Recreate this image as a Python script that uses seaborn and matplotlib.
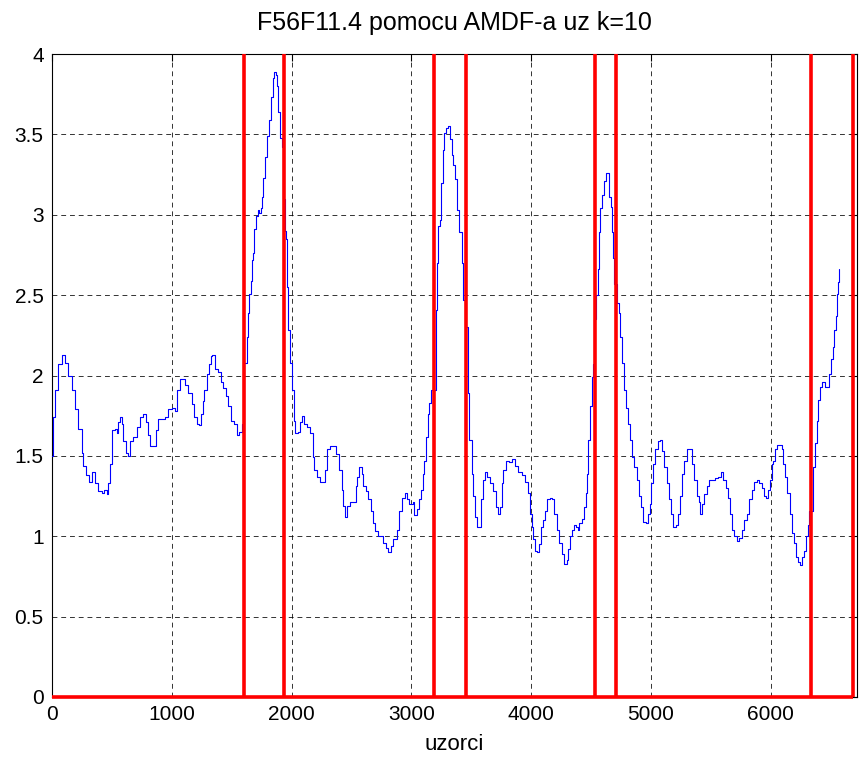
import matplotlib
matplotlib.use("Agg")
import matplotlib.pyplot as plt
import seaborn as sns
import pandas as pd

# ---- data ----
title_text = "F56F11.4 pomocu AMDF-a uz k=10"
x_label = "uzorci"
x_ticks = [0, 1000, 2000, 3000, 4000, 5000, 6000]
y_ticks = [0, 0.5, 1, 1.5, 2, 2.5, 3, 3.5, 4]
y_tick_labels = ["0", "0.5", "1", "1.5", "2", "2.5", "3", "3.5", "4"]

# detected segment boundaries (red lines)
boundaries = [1600, 1935, 3190, 3452, 4536, 4712, 6332, 6690]
boundary_height = 4.0

# AMDF curve (sample index, value)
samples = [
    0, 5, 25, 53, 81, 108, 136, 164, 192, 220,
    248, 262, 284, 312, 337, 359, 387, 415, 437, 456,
    470, 484, 503, 525, 540, 554, 568, 582, 595, 618,
    637, 651, 679, 707, 735, 757, 785, 804, 818, 852,
    868, 887, 915, 943, 971, 999, 1027, 1046, 1068, 1082,
    1110, 1138, 1166, 1188, 1208, 1227, 1241, 1258, 1269, 1291,
    1308, 1327, 1339, 1361, 1388, 1411, 1430, 1450, 1472, 1494,
    1522, 1541, 1564, 1590, 1605, 1625, 1633, 1647, 1658, 1667,
    1681, 1689, 1700, 1717, 1728, 1742, 1750, 1764, 1778, 1792,
    1811, 1828, 1845, 1856, 1867, 1875, 1889, 1903, 1917, 1925,
    1945, 1953, 1964, 1973, 1990, 2006, 2020, 2028, 2051, 2070,
    2089, 2106, 2126, 2154, 2176, 2187, 2209, 2237, 2260, 2279,
    2298, 2321, 2348, 2371, 2398, 2418, 2432, 2446, 2465, 2488,
    2515, 2538, 2549, 2565, 2585, 2599, 2621, 2641, 2660, 2677,
    2696, 2724, 2746, 2766, 2788, 2807, 2827, 2849, 2877, 2899,
    2919, 2947, 2966, 2983, 3011, 3024, 3038, 3049, 3066, 3080,
    3094, 3108, 3122, 3136, 3150, 3164, 3180, 3205, 3216, 3225,
    3236, 3247, 3261, 3275, 3289, 3308, 3322, 3336, 3350, 3364,
    3378, 3400, 3420, 3434, 3450, 3475, 3484, 3503, 3517, 3531,
    3550, 3569, 3581, 3595, 3614, 3634, 3656, 3684, 3703, 3720,
    3739, 3753, 3767, 3790, 3817, 3837, 3865, 3892, 3921, 3948,
    3971, 3990, 4004, 4018, 4032, 4051, 4065, 4082, 4101, 4115,
    4132, 4157, 4176, 4193, 4213, 4232, 4254, 4276, 4296, 4310,
    4324, 4338, 4357, 4371, 4388, 4402, 4421, 4441, 4455, 4463,
    4477, 4491, 4505, 4513, 4522, 4540, 4555, 4566, 4577, 4594,
    4605, 4622, 4636, 4649, 4663, 4677, 4685, 4694, 4715, 4736,
    4744, 4761, 4772, 4789, 4805, 4825, 4844, 4861, 4881, 4900,
    4917, 4936, 4956, 4973, 4989, 5000, 5014, 5033, 5056, 5075,
    5089, 5111, 5131, 5150, 5167, 5186, 5206, 5223, 5242, 5256,
    5278, 5298, 5326, 5340, 5359, 5381, 5401, 5412, 5429, 5445,
    5465, 5484, 5507, 5534, 5562, 5584, 5604, 5623, 5640, 5659,
    5679, 5695, 5715, 5734, 5757, 5779, 5798, 5818, 5840, 5860,
    5882, 5902, 5924, 5943, 5960, 5974, 5993, 6007, 6021, 6035,
    6054, 6077, 6091, 6104, 6118, 6138, 6160, 6180, 6196, 6208,
    6224, 6244, 6258, 6277, 6291, 6308, 6320, 6355, 6369, 6383,
    6397, 6411, 6430, 6452, 6475, 6489, 6503, 6517, 6530, 6542,
    6553, 6564, 6572,
]
amdf = [
    1.50, 1.74, 1.91, 2.07, 2.13, 2.08, 2.00, 1.91, 1.79, 1.67,
    1.52, 1.44, 1.38, 1.34, 1.40, 1.33, 1.28, 1.27, 1.29, 1.26,
    1.33, 1.45, 1.66, 1.67, 1.64, 1.71, 1.74, 1.70, 1.59, 1.52,
    1.50, 1.59, 1.62, 1.68, 1.74, 1.76, 1.71, 1.63, 1.56, 1.56,
    1.66, 1.73, 1.73, 1.74, 1.79, 1.80, 1.78, 1.91, 1.98, 1.98,
    1.94, 1.89, 1.82, 1.74, 1.70, 1.69, 1.76, 1.84, 1.91, 2.01,
    2.07, 2.12, 2.13, 2.04, 2.02, 1.96, 1.92, 1.87, 1.81, 1.72,
    1.70, 1.63, 1.65, 1.70, 2.08, 2.24, 2.39, 2.51, 2.59, 2.72,
    2.76, 2.91, 2.99, 3.03, 3.01, 3.04, 3.11, 3.23, 3.36, 3.49,
    3.59, 3.73, 3.85, 3.89, 3.87, 3.80, 3.64, 3.48, 3.42, 3.10,
    2.90, 2.85, 2.55, 2.28, 2.08, 1.91, 1.72, 1.64, 1.65, 1.71,
    1.75, 1.70, 1.68, 1.64, 1.49, 1.41, 1.37, 1.34, 1.34, 1.41,
    1.54, 1.56, 1.56, 1.51, 1.41, 1.29, 1.19, 1.12, 1.19, 1.21,
    1.21, 1.31, 1.37, 1.43, 1.39, 1.31, 1.28, 1.23, 1.16, 1.08,
    1.03, 1.00, 1.00, 0.96, 0.93, 0.90, 0.94, 0.98, 1.04, 1.16,
    1.24, 1.27, 1.23, 1.20, 1.21, 1.13, 1.13, 1.17, 1.23, 1.29,
    1.39, 1.47, 1.62, 1.76, 1.83, 1.91, 1.91, 2.41, 2.70, 2.93,
    2.97, 3.20, 3.40, 3.51, 3.54, 3.55, 3.47, 3.37, 3.31, 3.22,
    3.03, 2.89, 2.70, 2.47, 2.30, 1.89, 1.60, 1.39, 1.25, 1.12,
    1.06, 1.06, 1.23, 1.35, 1.40, 1.37, 1.33, 1.28, 1.18, 1.14,
    1.18, 1.33, 1.41, 1.47, 1.46, 1.48, 1.44, 1.40, 1.38, 1.34,
    1.27, 1.14, 1.06, 0.98, 0.91, 0.90, 0.95, 1.06, 1.10, 1.16,
    1.23, 1.24, 1.23, 1.14, 1.04, 0.96, 0.89, 0.83, 0.85, 0.92,
    1.00, 1.04, 1.07, 1.06, 1.04, 1.08, 1.11, 1.18, 1.27, 1.39,
    1.60, 1.81, 1.99, 2.07, 2.35, 2.50, 2.66, 2.89, 3.04, 3.12,
    3.21, 3.26, 3.26, 3.11, 3.05, 2.89, 2.73, 2.57, 2.45, 2.39,
    2.24, 2.08, 1.91, 1.80, 1.70, 1.60, 1.49, 1.43, 1.35, 1.25,
    1.18, 1.09, 1.08, 1.14, 1.20, 1.33, 1.45, 1.54, 1.59, 1.60,
    1.53, 1.43, 1.33, 1.23, 1.14, 1.06, 1.07, 1.14, 1.25, 1.39,
    1.47, 1.54, 1.54, 1.45, 1.35, 1.25, 1.21, 1.14, 1.20, 1.26,
    1.31, 1.35, 1.35, 1.36, 1.37, 1.40, 1.35, 1.30, 1.24, 1.14,
    1.04, 1.00, 0.97, 0.99, 1.04, 1.10, 1.14, 1.23, 1.29, 1.34,
    1.35, 1.33, 1.30, 1.25, 1.24, 1.29, 1.35, 1.45, 1.47, 1.54,
    1.57, 1.57, 1.54, 1.45, 1.37, 1.27, 1.14, 1.02, 0.96, 0.87,
    0.84, 0.82, 0.87, 0.91, 1.00, 1.07, 1.16, 1.43, 1.58, 1.72,
    1.85, 1.93, 1.96, 1.93, 1.93, 2.01, 2.10, 2.18, 2.28, 2.37,
    2.51, 2.58, 2.66,
]

# ---- figure ----
sns.set_style("white")
plt.rcParams["font.family"] = ["Liberation Sans", "DejaVu Sans"]
plt.rcParams["text.color"] = "black"
plt.rcParams["axes.labelcolor"] = "black"
plt.rcParams["axes.titlecolor"] = "black"

fig = plt.figure(figsize=(8.59, 7.60), dpi=100)
ax = fig.add_axes([52 / 859, 1 - 697 / 760, (857 - 52) / 859, (697 - 54) / 760])

df = pd.DataFrame({"uzorci": samples, "amdf": amdf})
sns.lineplot(data=df, x="uzorci", y="amdf", ax=ax, color="#0000ff",
             linewidth=0.8, estimator=None, sort=False,
             drawstyle="steps-post", zorder=3)

# segment boundaries
ax.vlines(boundaries, 0, boundary_height, colors="#ff0000", linewidth=2.6, zorder=4)
ax.hlines(0, 0, boundaries[-1], colors="#ff0000", linewidth=2.6, zorder=4,
          clip_on=False)

ax.set_xlim(0, 6720)
ax.set_ylim(0, 4)
ax.set_xticks(x_ticks)
ax.set_xticklabels([str(t) for t in x_ticks])
ax.set_yticks(y_ticks)
ax.set_yticklabels(y_tick_labels)

ax.grid(True, color="black", linestyle=(0, (5, 4)), linewidth=0.7, alpha=0.8)
ax.set_axisbelow(True)
ax.tick_params(direction="in", top=True, right=True, length=5, width=0.8,
               labelsize=15, pad=6, colors="black")
for s in ax.spines.values():
    s.set_color("black")
    s.set_linewidth(0.8)

ax.set_title(title_text, fontsize=18, pad=17, color="black")
ax.set_xlabel(x_label, fontsize=16, labelpad=7, color="black")
ax.set_ylabel("")

fig.savefig("out.png", dpi=100)
